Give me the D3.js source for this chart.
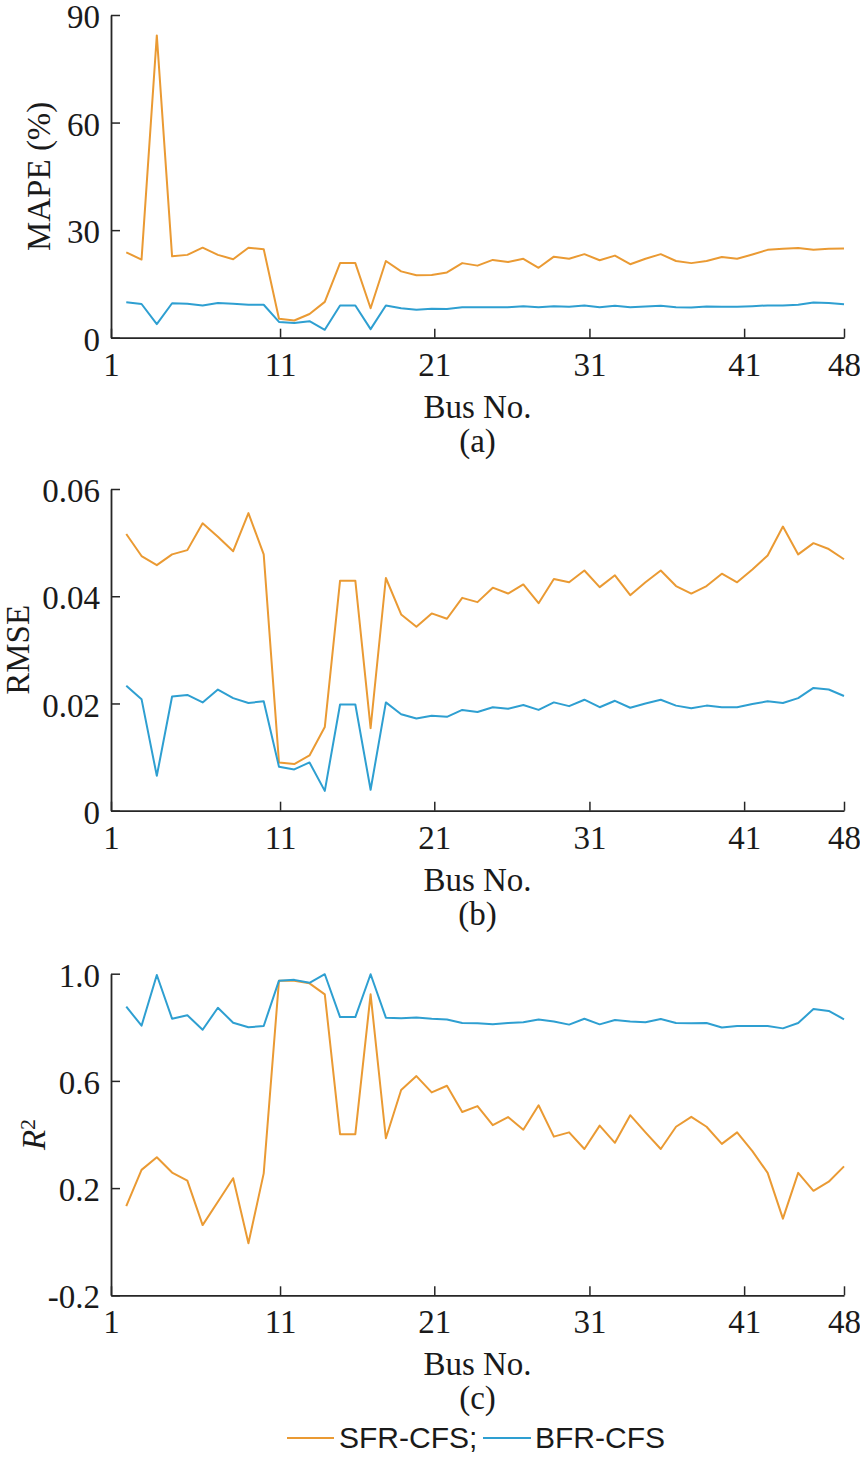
<!DOCTYPE html>
<html>
<head>
<meta charset="utf-8">
<script src="https://cdn.jsdelivr.net/npm/d3@7"></script>
<style>
  html, body { margin: 0; padding: 0; background: #fff; }
  svg { display: block; }
</style>
</head>
<body>
<div id="chart"></div>
<script>
  // Bus numbers on the x axis
  var busNo = d3.range(1, 49);

  // Tick positions on the bus axis and their labels
  var xTickValues = [0, 11.07, 21.17, 31.33, 41.46, 48];
  var xTickLabels = ["1", "11", "21", "31", "41", "48"];

  // (a) MAPE (%)
  var mapeSFR = [23.8, 21.8, 84.3, 22.7, 23.1, 25.1, 23.1, 21.9, 25.1, 24.7,
                 5.3, 4.8, 6.6, 10.0, 20.8, 20.8, 8.2, 21.4, 18.5, 17.4,
                 17.5, 18.2, 20.8, 20.1, 21.7, 21.1, 22.0, 19.5, 22.6, 22.0,
                 23.3, 21.6, 22.9, 20.5, 22.0, 23.3, 21.4, 20.8, 21.4, 22.5,
                 22.0, 23.2, 24.5, 24.8, 25.0, 24.5, 24.8, 24.9];
  var mapeBFR = [9.9, 9.4, 3.8, 9.6, 9.5, 9.0, 9.7, 9.5, 9.2, 9.2,
                 4.4, 4.1, 4.6, 2.2, 9.0, 9.0, 2.4, 9.0, 8.2, 7.8,
                 8.1, 8.0, 8.5, 8.5, 8.5, 8.5, 8.8, 8.5, 8.8, 8.6,
                 9.0, 8.5, 8.9, 8.5, 8.7, 8.9, 8.5, 8.4, 8.7, 8.6,
                 8.6, 8.8, 9.0, 9.0, 9.2, 9.8, 9.7, 9.3];
  var mapeTicks = [0, 30, 60, 90];
  var mapeTickLabels = ["0", "30", "60", "90"];

  // (b) RMSE
  var rmseSFR = [0.0516, 0.0475, 0.0458, 0.0478, 0.0486, 0.0536, 0.0511, 0.0484, 0.0555, 0.0478,
                 0.0090, 0.0087, 0.0103, 0.0156, 0.0429, 0.0429, 0.0154, 0.0434, 0.0366, 0.0343,
                 0.0368, 0.0358, 0.0397, 0.0389, 0.0416, 0.0405, 0.0422, 0.0387, 0.0432, 0.0426,
                 0.0448, 0.0417, 0.0439, 0.0402, 0.0426, 0.0448, 0.0419, 0.0405, 0.0419, 0.0442,
                 0.0426, 0.0450, 0.0476, 0.0530, 0.0478, 0.0499, 0.0488, 0.0469];
  var rmseBFR = [0.0233, 0.0208, 0.0065, 0.0213, 0.0216, 0.0202, 0.0226, 0.0210, 0.0201, 0.0204,
                 0.0082, 0.0077, 0.0090, 0.0037, 0.0198, 0.0198, 0.0039, 0.0202, 0.0180, 0.0172,
                 0.0177, 0.0175, 0.0188, 0.0184, 0.0193, 0.0190, 0.0197, 0.0188, 0.0202, 0.0195,
                 0.0207, 0.0193, 0.0205, 0.0192, 0.0200, 0.0207, 0.0196, 0.0191, 0.0196, 0.0193,
                 0.0193, 0.0199, 0.0204, 0.0201, 0.0210, 0.0229, 0.0226, 0.0214];
  var rmseTicks = [0, 0.02, 0.04, 0.06];
  var rmseTickLabels = ["0", "0.02", "0.04", "0.06"];

  // (c) R^2
  var r2SFR = [0.133, 0.268, 0.315, 0.258, 0.228, 0.062, 0.149, 0.237, -0.006, 0.255,
               0.974, 0.974, 0.964, 0.923, 0.401, 0.401, 0.923, 0.386, 0.566, 0.618,
               0.557, 0.582, 0.484, 0.506, 0.435, 0.465, 0.418, 0.509, 0.392, 0.408,
               0.346, 0.433, 0.369, 0.472, 0.408, 0.346, 0.429, 0.466, 0.429, 0.365,
               0.408, 0.338, 0.257, 0.086, 0.257, 0.190, 0.224, 0.281];
  var r2BFR = [0.877, 0.806, 0.995, 0.832, 0.845, 0.791, 0.873, 0.817, 0.800, 0.805,
               0.974, 0.977, 0.966, 0.998, 0.838, 0.838, 0.998, 0.836, 0.834, 0.837,
               0.832, 0.829, 0.816, 0.815, 0.811, 0.816, 0.819, 0.829, 0.822, 0.810,
               0.832, 0.811, 0.827, 0.822, 0.819, 0.831, 0.816, 0.815, 0.816, 0.799,
               0.805, 0.805, 0.805, 0.796, 0.816, 0.868, 0.861, 0.830];
  var r2Ticks = [-0.2, 0.2, 0.6, 1.0];
  var r2TickLabels = ["-0.2", "0.2", "0.6", "1.0"];

  var seriesNames = ["SFR-CFS;", "BFR-CFS"];
  var seriesColors = ["#EA9A33", "#2E9FD1"];

  // Layout
  var width = 860, height = 1459;
  var plotLeft = 111, plotRight = 844;
  var serif = "'Liberation Serif', 'Times New Roman', serif";
  var axisColor = "#262626";

  var svg = d3.select("#chart").append("svg")
              .attr("width", width)
              .attr("height", height);

  var xScale = d3.scaleLinear().domain([0, 48]).range([plotLeft, plotRight]);

  var panels = [
    { top: 15,    bottom: 337.7,  domain: [0, 90],     ticks: mapeTicks, labels: mapeTickLabels,
      sfr: mapeSFR, bfr: mapeBFR, ylabel: "MAPE (%)", ylabelX: 50, tag: "(a)" },
    { top: 489,   bottom: 810.7,  domain: [0, 0.06],   ticks: rmseTicks, labels: rmseTickLabels,
      sfr: rmseSFR, bfr: rmseBFR, ylabel: "RMSE", ylabelX: 29, tag: "(b)" },
    { top: 973.7, bottom: 1295.3, domain: [-0.2, 1.0], ticks: r2Ticks,   labels: r2TickLabels,
      sfr: r2SFR, bfr: r2BFR, ylabel: null, ylabelX: 45, tag: "(c)" }
  ];

  function styleAxis(g) {
    g.selectAll("path.domain").attr("stroke", axisColor).attr("stroke-width", 1.8);
    g.selectAll(".tick line").attr("stroke", axisColor).attr("stroke-width", 1.5);
    g.selectAll(".tick text")
      .attr("fill", "#1a1a1a")
      .style("font-family", serif)
      .style("font-size", "33px");
  }

  panels.forEach(function(p) {
    var yScale = d3.scaleLinear().domain(p.domain).range([p.bottom, p.top]);

    // Lines
    var line = d3.line()
                 .x(function(d, i) { return xScale(busNo[i]); })
                 .y(function(d) { return yScale(d); });

    [p.sfr, p.bfr].forEach(function(values, k) {
      svg.append("path")
         .datum(values)
         .attr("fill", "none")
         .attr("stroke", seriesColors[k])
         .attr("stroke-width", 2)
         .attr("stroke-linejoin", "round")
         .attr("d", line);
    });

    // Y axis (ticks pointing inward)
    var yAxis = d3.axisLeft(yScale)
                  .tickValues(p.ticks)
                  .tickFormat(function(d, i) { return p.labels[i]; })
                  .tickSizeInner(-9)
                  .tickSizeOuter(0)
                  .tickPadding(11);
    var gy = svg.append("g")
                .attr("transform", "translate(" + plotLeft + ",0)")
                .call(yAxis);
    gy.selectAll(".tick text").attr("dy", "0.38em");
    styleAxis(gy);

    // X axis
    var xAxis = d3.axisBottom(xScale)
                  .tickValues(xTickValues)
                  .tickFormat(function(d, i) { return xTickLabels[i]; })
                  .tickSizeInner(-9)
                  .tickSizeOuter(0)
                  .tickPadding(14.5);
    var gx = svg.append("g")
                .attr("transform", "translate(0," + p.bottom + ")")
                .call(xAxis);
    styleAxis(gx);

    // Axis titles
    var midX = (plotLeft + plotRight) / 2;
    svg.append("text")
       .attr("x", midX).attr("y", p.bottom + 80)
       .attr("text-anchor", "middle")
       .style("font-family", serif).style("font-size", "33px")
       .attr("fill", "#1a1a1a")
       .text("Bus No.");
    svg.append("text")
       .attr("x", midX).attr("y", p.bottom + 114)
       .attr("text-anchor", "middle")
       .style("font-family", serif).style("font-size", "33px")
       .attr("fill", "#1a1a1a")
       .text(p.tag);

    var midY = (p.top + p.bottom) / 2;
    var yl = svg.append("text")
       .attr("transform", "translate(" + p.ylabelX + "," + midY + ") rotate(-90)")
       .attr("text-anchor", "middle")
       .style("font-family", serif).style("font-size", "33px")
       .attr("fill", "#1a1a1a");
    if (p.ylabel) {
      yl.text(p.ylabel);
    } else {
      yl.append("tspan").style("font-style", "italic").text("R");
      yl.append("tspan").attr("dy", "-0.45em").style("font-size", "22px").text("2");
    }
  });

  // Legend
  var legendY = 1438, legendBase = 1448;
  var legendItems = [
    { x1: 287, x2: 334, tx: 339 },
    { x1: 483, x2: 531, tx: 535 }
  ];
  legendItems.forEach(function(item, k) {
    svg.append("line")
       .attr("x1", item.x1).attr("x2", item.x2)
       .attr("y1", legendY).attr("y2", legendY)
       .attr("stroke", seriesColors[k])
       .attr("stroke-width", 2);
    svg.append("text")
       .attr("x", item.tx).attr("y", legendBase)
       .style("font-family", "'Liberation Sans', Arial, sans-serif")
       .style("font-size", "30px")
       .attr("fill", "#1a1a1a")
       .text(seriesNames[k]);
  });
</script>
</body>
</html>
